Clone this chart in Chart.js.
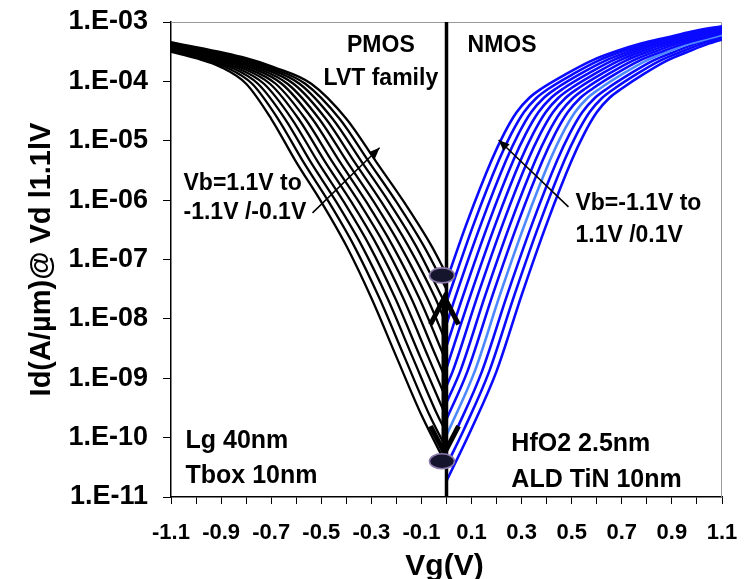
<!DOCTYPE html>
<html>
<head>
<meta charset="utf-8">
<script src="https://cdn.jsdelivr.net/npm/chart.js@4.4.1/dist/chart.umd.min.js"></script>
<style>
  html, body { margin: 0; padding: 0; background: #fff; }
  #wrap { width: 751px; height: 579px; }
</style>
</head>
<body>
<div id="wrap"><canvas id="c" width="751" height="579"></canvas></div>
<script>
// Axis ticks
const xTickValues = [-1.1,-1.0,-0.9,-0.8,-0.7,-0.6,-0.5,-0.4,-0.3,-0.2,-0.1,0,0.1,0.2,0.3,0.4,0.5,0.6,0.7,0.8,0.9,1.0,1.1];
const xTickLabels = ['-1.1','-0.9','-0.7','-0.5','-0.3','-0.1','0.1','0.3','0.5','0.7','0.9','1.1'];
const yTickValues = [1e-11,1e-10,1e-9,1e-8,1e-7,1e-6,1e-5,1e-4,1e-3];
const yTickLabels = ['1.E-11','1.E-10','1.E-09','1.E-08','1.E-07','1.E-06','1.E-05','1.E-04','1.E-03'];

// Back-bias values of each measured curve
const pmosVb = [1.1, 0.9, 0.7, 0.5, 0.3, 0.1, -0.1, -0.3, -0.5, -0.7, -0.9, -1.1];
const nmosVb = [1.1, 0.9, 0.7, 0.5, 0.3, 0.1, -0.1, -0.3, -0.5, -0.7, -0.9, -1.1];

// PMOS Id-Vg curves: [Vg (V), log10 Id (A/um)]
const pmosCurves = [
  [[-1.1,-3.50],[-1.0,-3.61],[-0.9,-3.76],[-0.8,-4.04],[-0.7,-4.63],[-0.6,-5.36],[-0.5,-6.03],[-0.4,-6.77],[-0.3,-7.65],[-0.2,-8.64],[-0.1,-9.62],[0,-10.46]],
  [[-1.1,-3.49],[-0.982,-3.61],[-0.881,-3.76],[-0.776,-4.04],[-0.673,-4.63],[-0.571,-5.36],[-0.470,-6.03],[-0.369,-6.77],[-0.268,-7.65],[-0.168,-8.64],[-0.068,-9.62],[0,-10.19]],
  [[-1.1,-3.47],[-0.964,-3.61],[-0.862,-3.76],[-0.753,-4.04],[-0.645,-4.63],[-0.542,-5.36],[-0.440,-6.03],[-0.338,-6.77],[-0.236,-7.65],[-0.136,-8.64],[-0.036,-9.62],[0,-9.92]],
  [[-1.1,-3.46],[-0.945,-3.61],[-0.843,-3.76],[-0.729,-4.04],[-0.618,-4.63],[-0.513,-5.36],[-0.410,-6.03],[-0.307,-6.77],[-0.205,-7.65],[-0.105,-8.64],[0,-9.66]],
  [[-1.1,-3.44],[-0.927,-3.61],[-0.824,-3.76],[-0.705,-4.04],[-0.591,-4.63],[-0.484,-5.36],[-0.380,-6.03],[-0.276,-6.77],[-0.173,-7.65],[-0.073,-8.64],[0,-9.36]],
  [[-1.1,-3.43],[-0.909,-3.61],[-0.805,-3.76],[-0.682,-4.04],[-0.564,-4.63],[-0.455,-5.36],[-0.350,-6.03],[-0.245,-6.77],[-0.141,-7.65],[-0.041,-8.64],[0,-9.04]],
  [[-1.1,-3.41],[-0.891,-3.61],[-0.785,-3.76],[-0.658,-4.04],[-0.536,-4.63],[-0.425,-5.36],[-0.320,-6.03],[-0.215,-6.77],[-0.109,-7.65],[0,-8.73]],
  [[-1.1,-3.40],[-0.873,-3.61],[-0.766,-3.76],[-0.635,-4.04],[-0.509,-4.63],[-0.396,-5.36],[-0.290,-6.03],[-0.184,-6.77],[-0.077,-7.65],[0,-8.41]],
  [[-1.1,-3.38],[-0.855,-3.61],[-0.747,-3.76],[-0.611,-4.04],[-0.482,-4.63],[-0.367,-5.36],[-0.260,-6.03],[-0.153,-6.77],[-0.045,-7.65],[0,-8.10]],
  [[-1.1,-3.37],[-0.836,-3.61],[-0.728,-3.76],[-0.587,-4.04],[-0.455,-4.63],[-0.338,-5.36],[-0.230,-6.03],[-0.122,-6.77],[0,-7.79]],
  [[-1.1,-3.35],[-0.818,-3.61],[-0.709,-3.76],[-0.564,-4.04],[-0.427,-4.63],[-0.309,-5.36],[-0.200,-6.03],[-0.091,-6.77],[0,-7.50]],
  [[-1.1,-3.34],[-0.80,-3.61],[-0.69,-3.76],[-0.54,-4.04],[-0.40,-4.63],[-0.28,-5.36],[-0.17,-6.03],[-0.06,-6.77],[0,-7.25]]
];

// NMOS Id-Vg curves: [Vg (V), log10 Id (A/um)]
const nmosCurves = [
  [[0,-7.36],[0.08,-6.40],[0.18,-5.33],[0.23,-4.88],[0.28,-4.52],[0.33,-4.28],[0.38,-4.12],[0.48,-3.87],[0.58,-3.65],[0.68,-3.49],[0.78,-3.36],[0.88,-3.26],[0.98,-3.16],[1.1,-3.07]],
  [[0,-7.72],[0.109,-6.40],[0.209,-5.33],[0.259,-4.88],[0.309,-4.52],[0.359,-4.28],[0.409,-4.12],[0.508,-3.87],[0.607,-3.65],[0.706,-3.49],[0.805,-3.36],[0.903,-3.26],[1.001,-3.16],[1.119,-3.07]],
  [[0,-8.09],[0.038,-7.60],[0.138,-6.40],[0.238,-5.33],[0.288,-4.88],[0.338,-4.52],[0.388,-4.28],[0.438,-4.12],[0.536,-3.87],[0.635,-3.65],[0.733,-3.49],[0.829,-3.36],[0.925,-3.26],[1.022,-3.16],[1.138,-3.07]],
  [[0,-8.46],[0.067,-7.60],[0.167,-6.40],[0.267,-5.33],[0.317,-4.88],[0.367,-4.52],[0.417,-4.28],[0.467,-4.12],[0.565,-3.87],[0.662,-3.65],[0.759,-3.49],[0.854,-3.36],[0.948,-3.26],[1.043,-3.16],[1.157,-3.07]],
  [[0,-8.83],[0.096,-7.60],[0.196,-6.40],[0.296,-5.33],[0.346,-4.88],[0.396,-4.52],[0.446,-4.28],[0.496,-4.12],[0.593,-3.87],[0.689,-3.65],[0.785,-3.49],[0.878,-3.36],[0.971,-3.26],[1.064,-3.16],[1.176,-3.07]],
  [[0,-9.13],[0.025,-8.88],[0.125,-7.60],[0.225,-6.40],[0.325,-5.33],[0.375,-4.88],[0.425,-4.52],[0.475,-4.28],[0.525,-4.12],[0.621,-3.87],[0.716,-3.65],[0.812,-3.49],[0.903,-3.36],[0.994,-3.26],[1.085,-3.16],[1.195,-3.07]],
  [[0,-9.41],[0.055,-8.88],[0.155,-7.60],[0.255,-6.40],[0.355,-5.33],[0.405,-4.88],[0.455,-4.52],[0.505,-4.28],[0.555,-4.12],[0.649,-3.87],[0.744,-3.65],[0.838,-3.49],[0.927,-3.36],[1.016,-3.26],[1.105,-3.16]],
  [[0,-9.69],[0.084,-8.88],[0.184,-7.60],[0.284,-6.40],[0.384,-5.33],[0.434,-4.88],[0.484,-4.52],[0.534,-4.28],[0.584,-4.12],[0.677,-3.87],[0.771,-3.65],[0.865,-3.49],[0.952,-3.36],[1.039,-3.26],[1.126,-3.16]],
  [[0,-9.96],[0.113,-8.88],[0.213,-7.60],[0.313,-6.40],[0.413,-5.33],[0.463,-4.88],[0.513,-4.52],[0.563,-4.28],[0.613,-4.12],[0.705,-3.87],[0.798,-3.65],[0.891,-3.49],[0.976,-3.36],[1.062,-3.26],[1.147,-3.16]],
  [[0,-10.22],[0.042,-9.85],[0.142,-8.88],[0.242,-7.60],[0.342,-6.40],[0.442,-5.33],[0.492,-4.88],[0.542,-4.52],[0.592,-4.28],[0.642,-4.12],[0.734,-3.87],[0.825,-3.65],[0.917,-3.49],[0.999,-3.36],[1.083,-3.26],[1.168,-3.16]],
  [[0,-10.47],[0.071,-9.85],[0.171,-8.88],[0.271,-7.60],[0.371,-6.40],[0.471,-5.33],[0.521,-4.88],[0.571,-4.52],[0.621,-4.28],[0.671,-4.12],[0.762,-3.87],[0.853,-3.65],[0.944,-3.49],[1.025,-3.36],[1.107,-3.26]],
  [[0,-10.73],[0.10,-9.85],[0.20,-8.88],[0.30,-7.60],[0.40,-6.40],[0.50,-5.33],[0.55,-4.88],[0.60,-4.52],[0.65,-4.28],[0.70,-4.12],[0.79,-3.87],[0.88,-3.65],[0.97,-3.49],[1.05,-3.36],[1.13,-3.26]]
];
const nmosHighlight = 8; // curve drawn in lighter blue

// Vg = 0 divider and the Ioff spread marks on it
const dividerVg = [0, 0];
const dividerId = [1e-3, 1e-11];
const ioffVg = [-0.018, -0.018];
const ioffId = [5.4e-8, 4.0e-11];
const spreadArrowVg = -0.008;
const spreadArrowId = [2.3e-8, 5.5e-11];

// Vb sweep arrows: [Vg, Id] tail then head
const pmosSweepArrow = [[-0.535, 6.1e-7], [-0.267, 7.6e-6]];
const nmosSweepArrow = [[0.487, 7.7e-7], [0.208, 1.03e-5]];

const FONT = '"Liberation Sans", Arial, Helvetica, sans-serif';

// Labels anchored on data coordinates (baseline at Id)
const notes = [
  { text: 'PMOS',         vg: -0.262, id: 3.13e-4, align: 'center', size: 23 },
  { text: 'LVT family',   vg: -0.262, id: 8.7e-5,  align: 'center', size: 23 },
  { text: 'NMOS',         vg: 0.084,  id: 3.13e-4, align: 'left',   size: 23 },
  { text: 'Vb=1.1V to',   vg: -1.050, id: 1.48e-6, align: 'left',   size: 23 },
  { text: '-1.1V /-0.1V', vg: -1.050, id: 4.8e-7,  align: 'left',   size: 23 },
  { text: 'Vb=-1.1V to',  vg: 0.515,  id: 6.8e-7,  align: 'left',   size: 23 },
  { text: '1.1V /0.1V',   vg: 0.515,  id: 2.0e-7,  align: 'left',   size: 23 },
  { text: 'Lg 40nm',      vg: -1.042, id: 6.8e-11, align: 'left',   size: 25 },
  { text: 'Tbox 10nm',    vg: -1.042, id: 1.75e-11,align: 'left',   size: 25 },
  { text: 'HfO2 2.5nm',   vg: 0.259,  id: 5.9e-11, align: 'left',   size: 25 },
  { text: 'ALD TiN 10nm', vg: 0.259,  id: 1.5e-11, align: 'left',   size: 25 }
];

const toPoints = curve => curve.map(([vg, lg]) => ({ x: vg, y: Math.pow(10, lg) }));

const datasets = [];
datasets.push({
  label: 'Vg = 0',
  data: dividerVg.map((v, i) => ({ x: v, y: dividerId[i] })),
  borderColor: '#000', borderWidth: 3.5, pointRadius: 0, order: 0
});
nmosCurves.forEach((c, i) => datasets.push({
  label: 'NMOS Vb=' + nmosVb[i] + 'V',
  data: toPoints(c),
  borderColor: i === nmosHighlight ? '#4d88ff' : '#0a0aff',
  borderWidth: 2.6, pointRadius: 0, cubicInterpolationMode: 'monotone', order: 1
}));
pmosCurves.forEach((c, i) => datasets.push({
  label: 'PMOS Vb=' + pmosVb[i] + 'V',
  data: toPoints(c),
  borderColor: '#000', borderWidth: 2.3, pointRadius: 0, cubicInterpolationMode: 'monotone', order: 2
}));

function arrowHead(ctx, x0, y0, x1, y1, len, half) {
  const a = Math.atan2(y1 - y0, x1 - x0);
  ctx.beginPath();
  ctx.moveTo(x1, y1);
  ctx.lineTo(x1 - len * Math.cos(a) + half * Math.sin(a), y1 - len * Math.sin(a) - half * Math.cos(a));
  ctx.lineTo(x1 - len * Math.cos(a) - half * Math.sin(a), y1 - len * Math.sin(a) + half * Math.cos(a));
  ctx.closePath();
  ctx.fill();
}

const decorations = {
  id: 'decorations',
  beforeDatasetsDraw(chart) {
    const { ctx, chartArea: a } = chart;
    ctx.save();
    ctx.strokeStyle = '#9a9a9a';
    ctx.lineWidth = 1;
    ctx.beginPath();
    ctx.moveTo(a.left, a.top + 0.5);
    ctx.lineTo(a.right - 0.5, a.top + 0.5);
    ctx.lineTo(a.right - 0.5, a.bottom);
    ctx.stroke();
    ctx.restore();
  },
  afterDatasetsDraw(chart) {
    const { ctx, scales: { x, y } } = chart;
    ctx.save();
    ctx.fillStyle = '#000';
    ctx.strokeStyle = '#000';

    // Vb sweep arrows
    [pmosSweepArrow, nmosSweepArrow].forEach(([t, h]) => {
      const x0 = x.getPixelForValue(t[0]), y0 = y.getPixelForValue(t[1]);
      const x1 = x.getPixelForValue(h[0]), y1 = y.getPixelForValue(h[1]);
      ctx.lineWidth = 1.5;
      ctx.beginPath();
      ctx.moveTo(x0, y0);
      ctx.lineTo(x1, y1);
      ctx.stroke();
      arrowHead(ctx, x0, y0, x1, y1, 11, 4.5);
    });

    // Double arrow spanning the off-current spread
    const ax = x.getPixelForValue(spreadArrowVg);
    const yT = y.getPixelForValue(spreadArrowId[0]);
    const yB = y.getPixelForValue(spreadArrowId[1]);
    ctx.lineWidth = 6;
    ctx.lineCap = 'butt';
    ctx.beginPath();
    ctx.moveTo(ax, yT + 3);
    ctx.lineTo(ax, yB - 3);
    ctx.stroke();
    ctx.lineWidth = 5;
    ctx.lineJoin = 'miter';
    ctx.beginPath();
    ctx.moveTo(ax - 14, yT + 27); ctx.lineTo(ax, yT); ctx.lineTo(ax + 14, yT + 27);
    ctx.stroke();
    ctx.beginPath();
    ctx.moveTo(ax - 14, yB - 27); ctx.lineTo(ax, yB); ctx.lineTo(ax + 14, yB - 27);
    ctx.stroke();

    // Off-current markers
    ioffVg.forEach((v, i) => {
      const px = x.getPixelForValue(v), py = y.getPixelForValue(ioffId[i]);
      ctx.beginPath();
      ctx.ellipse(px, py, 12.5, 7.5, 0, 0, Math.PI * 2);
      ctx.fillStyle = '#15152e';
      ctx.fill();
      ctx.lineWidth = 1.6;
      ctx.strokeStyle = '#8a78a8';
      ctx.stroke();
    });

    // Text labels
    ctx.fillStyle = '#000';
    ctx.textBaseline = 'alphabetic';
    notes.forEach(n => {
      ctx.font = 'bold ' + n.size + 'px ' + FONT;
      ctx.textAlign = n.align;
      ctx.fillText(n.text, x.getPixelForValue(n.vg), y.getPixelForValue(n.id));
    });
    ctx.restore();
  },
  afterDraw(chart) {
    const { ctx, chartArea: a } = chart;
    ctx.save();
    ctx.fillStyle = '#000';
    ctx.font = 'bold 30px ' + FONT;
    ctx.textAlign = 'center';
    ctx.textBaseline = 'alphabetic';
    ctx.fillText('Vg(V)', chart.scales.x.getPixelForValue(0) - 2, 575);
    ctx.font = 'bold 29px ' + FONT;
    ctx.translate(50, (a.top + a.bottom) / 2);
    ctx.rotate(-Math.PI / 2);
    ctx.fillText('Id(A/\u00b5m)@ Vd l1.1lV', 0, 0);
    ctx.restore();
  }
};

new Chart(document.getElementById('c'), {
  type: 'line',
  data: { datasets },
  plugins: [decorations],
  options: {
    responsive: false,
    animation: false,
    devicePixelRatio: 1,
    layout: { padding: { top: 22, right: 29, left: 0, bottom: 0 } },
    plugins: { legend: { display: false }, tooltip: { enabled: false } },
    scales: {
      x: {
        type: 'linear', min: -1.1, max: 1.1, position: 'bottom',
        afterBuildTicks: s => { s.ticks = xTickValues.map(v => ({ value: v })); },
        afterFit: s => { s.height = 82; s.paddingLeft = 0; s.paddingRight = 0; },
        ticks: {
          autoSkip: false, maxRotation: 0, minRotation: 0, padding: 16, color: '#000',
          font: { family: FONT, size: 22, weight: 'bold' },
          callback: v => xTickLabels.find(s => Math.abs(parseFloat(s) - v) < 1e-9) || ''
        },
        grid: { display: true, drawOnChartArea: false, drawTicks: true, tickLength: 7, tickColor: '#000', tickWidth: 1 },
        border: { display: true, color: '#000', width: 1.5 }
      },
      y: {
        type: 'logarithmic', min: 1e-11, max: 1e-3, position: 'left',
        afterBuildTicks: s => { s.ticks = yTickValues.map(v => ({ value: v })); },
        afterFit: s => { s.width = 171; s.paddingTop = 0; s.paddingBottom = 0; },
        ticks: {
          autoSkip: false, padding: 15, color: '#000',
          font: { family: FONT, size: 27, weight: 'bold' },
          callback: v => yTickLabels[yTickValues.findIndex(t => Math.abs(Math.log10(t) - Math.log10(v)) < 1e-6)] || ''
        },
        grid: { display: true, drawOnChartArea: false, drawTicks: true, tickLength: 8, tickColor: '#000', tickWidth: 1 },
        border: { display: true, color: '#000', width: 1.5 }
      }
    }
  }
});
</script>
</body>
</html>
